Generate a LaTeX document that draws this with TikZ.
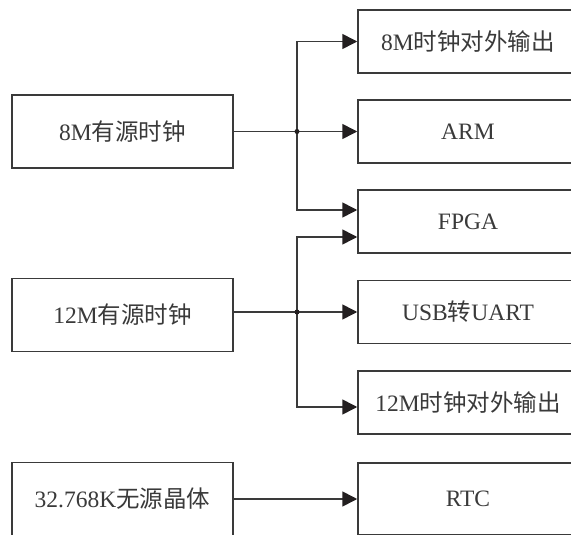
\documentclass[tikz,border=0pt]{standalone}
\usepackage{fontspec}
\setmainfont{Liberation Serif}
\newfontfamily\cjk{Noto Sans CJK SC}
\usetikzlibrary{arrows.meta}
\definecolor{ln}{HTML}{3A3A3A}
\definecolor{ah}{HTML}{231F20}
\definecolor{tx}{HTML}{3A3A3A}
\begin{document}
\begin{tikzpicture}[x=1pt,y=-1pt,
  box/.style={draw=ln,line width=1.5pt,fill=white,inner sep=0pt,text=tx,font=\fontsize{23.5}{23.5}\selectfont},
  src/.style={box,minimum width=221pt,minimum height=73pt},
  dst/.style={box,minimum width=220pt,minimum height=63pt},
  wire/.style={draw=ln,line width=1.6pt},
  arr/.style={wire,-{Triangle[length=15pt,width=15pt,color=ah]}},
  dot/.style={circle,fill=ah,inner sep=0pt,minimum size=5pt}]
\useasboundingbox (0,0) rectangle (571,535);
\clip (0,0) rectangle (571,535);
% sources
\node[src] (s1) at (122.5,131.5) {8M{\cjk 有源时钟}};
\node[src] (s2) at (122.5,315) {12M{\cjk 有源时钟}};
\node[src] (s3) at (122.5,499) {32.768K{\cjk 无源晶体}};
% destinations
\node[dst] (o1) at (468,41.5) {8M{\cjk 时钟对外输出}};
\node[dst] (o2) at (468,131.5) {ARM};
\node[dst] (o3) at (468,221.5) {FPGA};
\node[dst] (o4) at (468,312) {USB{\cjk 转}UART};
\node[dst] (o5) at (468,402.5) {12M{\cjk 时钟对外输出}};
\node[src,minimum width=220pt,minimum height=72pt] (o6) at (468,499) {RTC};
% junctions
\coordinate (j1) at (297,131.5);
\coordinate (j2) at (297,312);
\coordinate (f1) at ([yshift=11.5pt]o3.west);
\coordinate (f2) at ([yshift=-15.5pt]o3.west);
\coordinate (t5) at ([yshift=-4.5pt]o5.west);
% connectors
\draw[wire] (s1.east) -- (j1);
\draw[arr] (j1) |- (o1.west);
\draw[arr] (j1) -- (o2.west);
\draw[arr] (j1) |- (f1);
\draw[wire] (s2.east |- j2) -- (j2);
\draw[arr] (j2) |- (f2);
\draw[arr] (j2) -- (o4.west);
\draw[arr] (j2) |- (t5);
\draw[arr] (s3.east) -- (o6.west);
\node[dot] at (j1) {};
\node[dot] at (j2) {};
\end{tikzpicture}
\end{document}
